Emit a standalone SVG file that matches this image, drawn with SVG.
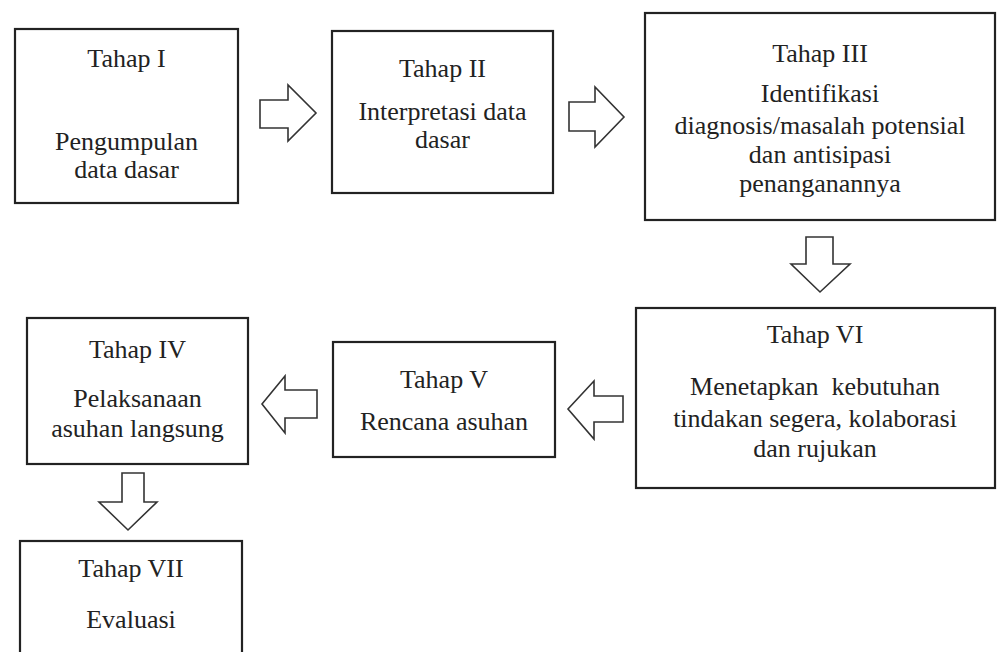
<svg xmlns="http://www.w3.org/2000/svg" width="1001" height="652" viewBox="0 0 1001 652">
<style>
.box{fill:#fff;stroke:#222;stroke-width:2.2}
.arr{fill:#fff;stroke:#333;stroke-width:1.6;stroke-linejoin:miter}
.t{font-family:'Liberation Serif','Times New Roman',Tinos,serif;font-size:26px;fill:#222;text-anchor:middle}
</style>
<rect width="1001" height="652" fill="#fff"/>
<g id="connectors">
<polygon class="arr" points="260,100 288,100 288,85 316,113 288,141 288,128 260,128"/>
<polygon class="arr" points="569,102 595,102 595,87 624,117 595,147 595,131 569,131"/>
<polygon class="arr" points="806,237 833,237 833,264 850,264 820,292 791,264 806,264"/>
<polygon class="arr" points="623,396 594,396 594,381 568,409 594,439 594,422 623,422"/>
<polygon class="arr" points="317,390 285,390 285,376 262,404 285,433 285,418 317,418"/>
<polygon class="arr" points="122,473 144,473 144,502 157,502 128,530 99,502 122,502"/>
</g>
<g id="tahap1" class="t" font-family="Liberation Serif, serif">
<rect class="box" x="15" y="29" width="223" height="174"/>
<text x="126.5" y="67">Tahap I</text>
<text x="126.5" y="150">Pengumpulan</text>
<text x="126.5" y="178">data dasar</text>
</g>
<g id="tahap2" class="t" font-family="Liberation Serif, serif">
<rect class="box" x="332" y="31" width="221" height="162"/>
<text x="442.5" y="77">Tahap II</text>
<text x="442.5" y="120">Interpretasi data</text>
<text x="442.5" y="148">dasar</text>
</g>
<g id="tahap3" class="t" font-family="Liberation Serif, serif">
<rect class="box" x="645" y="13" width="350" height="207"/>
<text x="820" y="62">Tahap III</text>
<text x="820" y="102">Identifikasi</text>
<text x="820" y="134">diagnosis/masalah potensial</text>
<text x="820" y="163">dan antisipasi</text>
<text x="820" y="192">penanganannya</text>
</g>
<g id="tahap6" class="t" font-family="Liberation Serif, serif">
<rect class="box" x="636" y="308" width="359" height="180"/>
<text x="815" y="343">Tahap VI</text>
<text x="815" y="395" xml:space="preserve">Menetapkan  kebutuhan</text>
<text x="815" y="427">tindakan segera, kolaborasi</text>
<text x="815" y="457">dan rujukan</text>
</g>
<g id="tahap5" class="t" font-family="Liberation Serif, serif">
<rect class="box" x="333" y="342" width="222" height="115"/>
<text x="444" y="388">Tahap V</text>
<text x="444" y="430">Rencana asuhan</text>
</g>
<g id="tahap4" class="t" font-family="Liberation Serif, serif">
<rect class="box" x="27" y="318" width="221" height="146"/>
<text x="137.5" y="358">Tahap IV</text>
<text x="137.5" y="407">Pelaksanaan</text>
<text x="137.5" y="437">asuhan langsung</text>
</g>
<g id="tahap7" class="t" font-family="Liberation Serif, serif">
<rect class="box" x="20" y="541" width="222" height="125"/>
<text x="131" y="577">Tahap VII</text>
<text x="131" y="628">Evaluasi</text>
</g>
</svg>
